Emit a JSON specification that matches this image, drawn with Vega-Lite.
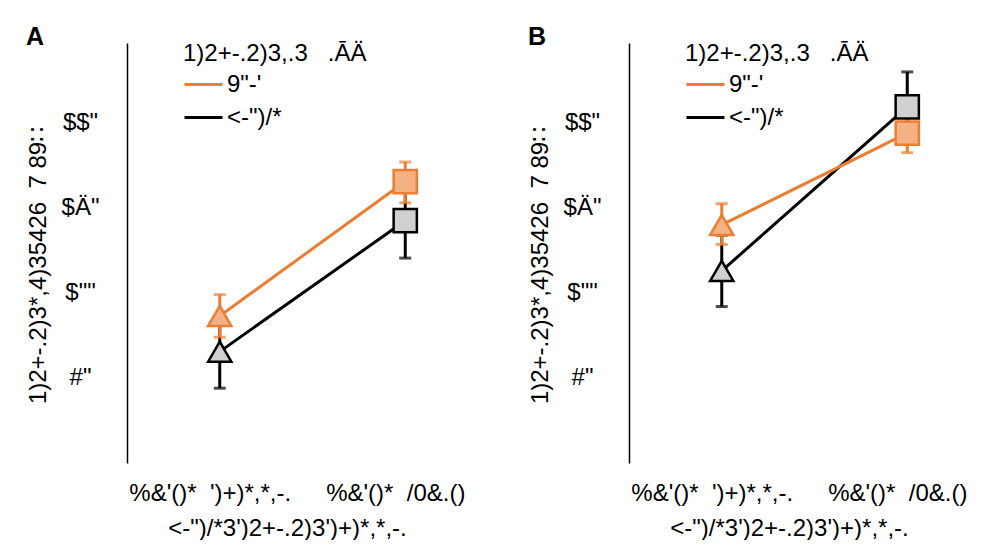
{
  "$schema": "https://vega.github.io/schema/vega-lite/v6.json",
  "background": "white",
  "padding": {"left": 26, "top": 25, "right": 0, "bottom": 0},
  "spacing": 30,
  "resolve": {"scale": {"color": "independent", "shape": "independent"}, "legend": {"color": "independent"}},
  "config": {
    "font": "Liberation Sans",
    "view": {"stroke": null},
    "axis": {
      "labelFont": "Liberation Sans", "titleFont": "Liberation Sans",
      "labelColor": "black", "titleColor": "black",
      "labelFontSize": 24, "titleFontSize": 24, "titleFontWeight": "normal",
      "grid": false, "ticks": false, "tickSize": 0, "labelLimit": 0, "titleLimit": 0
    },
    "legend": {
      "titleFont": "Liberation Sans", "labelFont": "Liberation Sans",
      "titleFontSize": 24, "labelFontSize": 24, "titleFontWeight": "normal",
      "titleColor": "black", "labelColor": "black",
      "symbolType": "stroke", "symbolSize": 1444, "symbolStrokeWidth": 3,
      "labelOffset": 3, "rowPadding": 0, "titlePadding": -2, "padding": 0,
      "titleLimit": 0, "labelLimit": 0
    },
    "title": {"font": "Liberation Sans", "fontSize": 25, "fontWeight": "bold", "color": "black", "anchor": "start", "frame": "bounds", "offset": -8}
  },
  "datasets": {
    "A": [
      {"series": "<-\")/*", "cat": "%&'()*\u00a0\u00a0')+)*,*,-.", "y": 0.31, "lo": -0.12, "hi": 0.72},
      {"series": "<-\")/*", "cat": "%&'()*\u00a0\u00a0/0&.()", "y": 1.85, "lo": 1.41, "hi": 2.28},
      {"series": "9\"-'", "cat": "%&'()*\u00a0\u00a0')+)*,*,-.", "y": 0.73, "lo": 0.48, "hi": 0.98},
      {"series": "9\"-'", "cat": "%&'()*\u00a0\u00a0/0&.()", "y": 2.31, "lo": 2.06, "hi": 2.54}
    ],
    "B": [
      {"series": "<-\")/*", "cat": "%&'()*\u00a0\u00a0')+)*,*,-.", "y": 1.26, "lo": 0.84, "hi": 1.68},
      {"series": "<-\")/*", "cat": "%&'()*\u00a0\u00a0/0&.()", "y": 3.19, "lo": 2.78, "hi": 3.6},
      {"series": "9\"-'", "cat": "%&'()*\u00a0\u00a0')+)*,*,-.", "y": 1.8, "lo": 1.57, "hi": 2.05},
      {"series": "9\"-'", "cat": "%&'()*\u00a0\u00a0/0&.()", "y": 2.88, "lo": 2.65, "hi": 3.12}
    ]
  },
  "hconcat": [
    {
      "title": {"text": "A"},
      "width": 371, "height": 420,
      "data": {"name": "A"},
      "encoding": {
        "x": {"field": "cat", "type": "nominal", "sort": null,
          "scale": {"type": "point", "padding": 0.5, "domain": ["%&'()*\u00a0\u00a0')+)*,*,-.", "%&'()*\u00a0\u00a0/0&.()"]},
          "axis": {"domain": false, "labelAngle": 0, "labelPadding": 18, "labelOffset": -10, "title": "<-\")/*3')2+-.2)3')+)*,*,-.", "titleX": 160, "titlePadding": 11}}
      },
      "layer": [
        {"transform": [{"filter": "datum.series == '<-\")/*'"}],
          "mark": {"type": "errorbar", "color": "#000000", "rule": {"strokeWidth": 3}, "ticks": {"size": 12, "thickness": 3}},
          "encoding": {"y": {"field": "lo", "type": "quantitative", "title": "1)2+-.2)3*,4)35426\u00a0\u00a07 89∷"}, "y2": {"field": "hi"}}},
        {"transform": [{"filter": "datum.series != '<-\")/*'"}],
          "mark": {"type": "errorbar", "color": "#ED7D31", "rule": {"strokeWidth": 3}, "ticks": {"size": 12, "thickness": 3}},
          "encoding": {"y": {"field": "lo", "type": "quantitative", "title": "1)2+-.2)3*,4)35426\u00a0\u00a07 89∷"}, "y2": {"field": "hi"}}},
        {"mark": {"type": "line", "strokeWidth": 3},
          "encoding": {
            "y": {"field": "y", "type": "quantitative", "title": "1)2+-.2)3*,4)35426\u00a0\u00a07 89∷", "scale": {"domain": [-1, 3.94], "nice": false, "zero": false},
              "axis": {"values": [0, 1, 2, 3], "domainColor": "black", "domainWidth": 1.5, "labelAlign": "center", "labelPadding": 47,
                "labelExpr": "datum.value == 0 ? '#\"' : datum.value == 1 ? '$\"\"' : datum.value == 2 ? '$Ä\"' : '$$\"'",
                "titleX": -89, "titleY": 222, "titleAngle": -90, "titleAlign": "center", "titleBaseline": "middle"}},
            "color": {"field": "series", "type": "nominal", "scale": {"domain": ["9\"-'", "<-\")/*"], "range": ["#ED7D31", "#000000"]},
              "legend": {"title": "1)2+-.2)3,.3\u00a0\u00a0\u00a0.ĀÄ", "orient": "none", "legendX": 56, "legendY": -1}}}},
        {"transform": [{"filter": "datum.series == '<-\")/*'"}],
          "mark": {"type": "point", "filled": true, "fill": "#D0D0D0", "stroke": "#000000", "strokeWidth": 2.5, "opacity": 1, "size": 540},
          "encoding": {"y": {"field": "y", "type": "quantitative", "title": "1)2+-.2)3*,4)35426\u00a0\u00a07 89∷"},
            "shape": {"field": "cat", "type": "nominal", "scale": {"domain": ["%&'()*\u00a0\u00a0')+)*,*,-.", "%&'()*\u00a0\u00a0/0&.()"], "range": ["triangle-up", "square"]}, "legend": null}}},
        {"transform": [{"filter": "datum.series != '<-\")/*'"}],
          "mark": {"type": "point", "filled": true, "fill": "#F4B183", "stroke": "#ED7D31", "strokeWidth": 2.5, "opacity": 1, "size": 540},
          "encoding": {"y": {"field": "y", "type": "quantitative", "title": "1)2+-.2)3*,4)35426\u00a0\u00a07 89∷"},
            "shape": {"field": "cat", "type": "nominal", "legend": null}}}
      ]
    },
    {
      "title": {"text": "B"},
      "width": 371, "height": 420,
      "data": {"name": "B"},
      "encoding": {
        "x": {"field": "cat", "type": "nominal", "sort": null,
          "scale": {"type": "point", "padding": 0.5, "domain": ["%&'()*\u00a0\u00a0')+)*,*,-.", "%&'()*\u00a0\u00a0/0&.()"]},
          "axis": {"domain": false, "labelAngle": 0, "labelPadding": 18, "labelOffset": -10, "title": "<-\")/*3')2+-.2)3')+)*,*,-.", "titleX": 160, "titlePadding": 11}}
      },
      "layer": [
        {"transform": [{"filter": "datum.series == '<-\")/*'"}],
          "mark": {"type": "errorbar", "color": "#000000", "rule": {"strokeWidth": 3}, "ticks": {"size": 12, "thickness": 3}},
          "encoding": {"y": {"field": "lo", "type": "quantitative", "title": "1)2+-.2)3*,4)35426\u00a0\u00a07 89∷"}, "y2": {"field": "hi"}}},
        {"transform": [{"filter": "datum.series != '<-\")/*'"}],
          "mark": {"type": "errorbar", "color": "#ED7D31", "rule": {"strokeWidth": 3}, "ticks": {"size": 12, "thickness": 3}},
          "encoding": {"y": {"field": "lo", "type": "quantitative", "title": "1)2+-.2)3*,4)35426\u00a0\u00a07 89∷"}, "y2": {"field": "hi"}}},
        {"mark": {"type": "line", "strokeWidth": 3},
          "encoding": {
            "y": {"field": "y", "type": "quantitative", "title": "1)2+-.2)3*,4)35426\u00a0\u00a07 89∷", "scale": {"domain": [-1, 3.94], "nice": false, "zero": false},
              "axis": {"values": [0, 1, 2, 3], "domainColor": "black", "domainWidth": 1.5, "labelAlign": "center", "labelPadding": 47,
                "labelExpr": "datum.value == 0 ? '#\"' : datum.value == 1 ? '$\"\"' : datum.value == 2 ? '$Ä\"' : '$$\"'",
                "titleX": -89, "titleY": 222, "titleAngle": -90, "titleAlign": "center", "titleBaseline": "middle"}},
            "color": {"field": "series", "type": "nominal", "scale": {"domain": ["9\"-'", "<-\")/*"], "range": ["#ED7D31", "#000000"]},
              "legend": {"title": "1)2+-.2)3,.3\u00a0\u00a0\u00a0.ĀÄ", "orient": "none", "legendX": 56, "legendY": -1}}}},
        {"transform": [{"filter": "datum.series == '<-\")/*'"}],
          "mark": {"type": "point", "filled": true, "fill": "#D0D0D0", "stroke": "#000000", "strokeWidth": 2.5, "opacity": 1, "size": 540},
          "encoding": {"y": {"field": "y", "type": "quantitative", "title": "1)2+-.2)3*,4)35426\u00a0\u00a07 89∷"},
            "shape": {"field": "cat", "type": "nominal", "scale": {"domain": ["%&'()*\u00a0\u00a0')+)*,*,-.", "%&'()*\u00a0\u00a0/0&.()"], "range": ["triangle-up", "square"]}, "legend": null}}},
        {"transform": [{"filter": "datum.series != '<-\")/*'"}],
          "mark": {"type": "point", "filled": true, "fill": "#F4B183", "stroke": "#ED7D31", "strokeWidth": 2.5, "opacity": 1, "size": 540},
          "encoding": {"y": {"field": "y", "type": "quantitative", "title": "1)2+-.2)3*,4)35426\u00a0\u00a07 89∷"},
            "shape": {"field": "cat", "type": "nominal", "legend": null}}}
      ]
    }
  ]
}
